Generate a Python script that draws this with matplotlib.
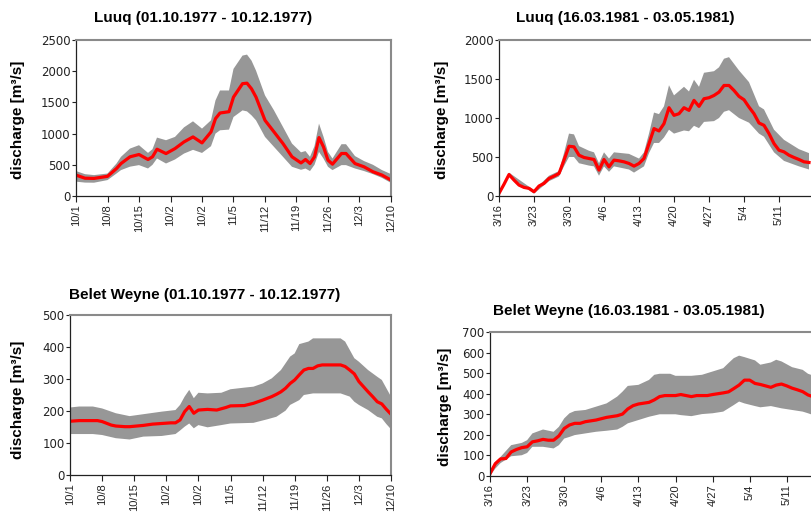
import matplotlib
matplotlib.use("Agg")
import matplotlib.pyplot as plt
import numpy as np

plt.rcParams['font.family'] = ['Liberation Sans', 'DejaVu Sans']

# ---- Luuq 1977 (day 0 = 10/1)
luuq77_days = [0, 2, 4, 7, 9, 10, 12, 14, 16, 17, 18, 20, 22, 24, 26, 28, 30, 31, 32, 34, 35,
               37, 38, 39, 40, 42, 44, 46, 48, 50, 51, 52, 53, 54, 55, 56, 57, 59, 60, 62,
               64, 66, 68, 70]
luuq77_mean = [335, 285, 282, 315, 440, 520, 628, 665, 585, 628, 750, 680, 760, 867, 947, 851,
               1027, 1240, 1330, 1351, 1585, 1800, 1808, 1718, 1585, 1213, 1027, 840, 628, 530,
               585, 520, 628, 936, 787, 574, 510, 681, 681, 520, 468, 388, 335, 255]
luuq77_upper = [400, 350, 335, 360, 520, 628, 760, 814, 691, 750, 936, 894, 947, 1100, 1197,
                1080, 1213, 1532, 1691, 1691, 2037, 2250, 2266, 2170, 2010, 1612, 1372, 1106,
                840, 700, 720, 628, 800, 1160, 950, 707, 600, 830, 830, 640, 560, 500, 415, 351]
luuq77_lower = [230, 215, 213, 255, 360, 415, 470, 495, 441, 500, 601, 521, 585, 680, 740, 690,
                798, 1000, 1053, 1064, 1266, 1372, 1356, 1293, 1213, 947, 787, 628, 468, 420,
                440, 400, 500, 707, 600, 468, 415, 495, 495, 441, 400, 350, 290, 210]

# ---- Luuq 1981 (day 0 = 3/16)
luuq81_days = list(range(0, 63))
luuq81_mean = [34, 150, 275, 204, 140, 110, 98, 55, 128, 162, 225, 255, 289, 460, 638, 630,
               523, 494, 481, 468, 332, 468, 374, 460, 451, 438, 417, 383, 417, 481, 672, 864,
               834, 928, 1132, 1034, 1055, 1132, 1098, 1226, 1149, 1247, 1260, 1289, 1332,
               1417, 1417, 1353, 1277, 1234, 1140, 1055, 936, 906, 800, 672, 587, 566, 523,
               494, 468, 438, 430]
luuq81_up_days = [0, 2, 7, 10, 12, 13, 14, 15, 16, 18, 19, 20, 21, 22, 23, 26, 28, 29, 30, 31,
                  32, 33, 34, 35, 37, 38, 39, 40, 41, 43, 44, 45, 46, 48, 50, 52, 53, 55, 57,
                  60, 62]
luuq81_upper = [40, 300, 75, 260, 320, 550, 800, 790, 640, 580, 560, 420, 560, 480, 560, 540,
                480, 560, 800, 1070, 1050, 1150, 1420, 1290, 1400, 1340, 1490, 1400, 1580, 1600,
                1650, 1760, 1780, 1610, 1460, 1150, 1110, 850, 720, 600, 550]
luuq81_lo_days = [0, 2, 7, 10, 12, 13, 14, 15, 16, 18, 19, 20, 21, 22, 23, 26, 27, 29, 30, 31,
                  32, 33, 34, 35, 37, 38, 39, 40, 41, 43, 44, 45, 46, 48, 50, 52, 53, 55, 57,
                  60, 62]
luuq81_lower = [20, 250, 30, 190, 250, 380, 500, 500, 420, 390, 380, 260, 380, 310, 380, 340,
                300, 380, 550, 680, 680, 750, 850, 800, 840, 830, 900, 870, 950, 960, 1000,
                1080, 1100, 1000, 940, 800, 760, 560, 450, 380, 340]

# ---- Belet Weyne 1977 (day 0 = 10/1)
bw77_days = [0, 2, 6, 7, 9, 10, 12, 13, 16, 18, 20, 22, 23, 24, 25, 26, 27, 28, 30, 32, 34, 35,
             38, 40, 42, 44, 45, 46, 47, 48, 49, 50, 51, 52, 53, 54, 55, 57, 59, 60, 61, 62,
             63, 64, 65, 66, 67, 68, 69, 70]
bw77_mean = [168, 170, 170, 167, 156, 153, 151, 151, 155, 159, 161, 163, 163, 172, 198, 214,
             193, 203, 205, 203, 211, 216, 217, 224, 234, 245, 252, 260, 271, 286, 297, 313,
             328, 333, 333, 341, 344, 344, 344, 339, 328, 316, 292, 276, 260, 245, 229, 222,
             205, 190]
bw77_up_days = [0, 2, 5, 7, 10, 13, 16, 20, 23, 24, 25, 26, 27, 28, 30, 33, 35, 38, 40, 42, 44,
                46, 48, 49, 50, 52, 53, 55, 59, 60, 61, 62, 63, 65, 67, 68, 69, 70]
bw77_upper = [211, 214, 214, 208, 193, 184, 190, 198, 203, 219, 245, 266, 240, 257, 255, 257,
              268, 273, 276, 286, 302, 328, 370, 380, 409, 417, 427, 427, 427, 417, 391, 365,
              354, 328, 307, 297, 271, 245]
bw77_lo_days = [0, 5, 7, 10, 13, 16, 20, 23, 24, 25, 26, 27, 28, 30, 33, 35, 40, 43, 45, 47, 48,
                50, 51, 53, 59, 61, 62, 63, 65, 67, 68, 69, 70]
bw77_lower = [128, 128, 125, 115, 111, 120, 122, 128, 139, 151, 161, 146, 156, 149, 156, 161,
              163, 174, 182, 201, 219, 234, 250, 255, 255, 245, 229, 219, 203, 182, 177, 159, 143]

# ---- Belet Weyne 1981 (day 0 = 3/16)
bw81_days = [0, 0.5, 1, 2, 3, 4, 5, 6, 7, 8, 9, 10, 11, 12, 13, 14, 15, 16, 17, 18, 20, 22, 24,
             25, 26, 27, 28, 30, 31, 32, 33, 34, 35, 36, 38, 39, 41, 42, 43, 44, 45, 46, 47,
             48, 49, 50, 51, 52, 53, 54, 55, 56, 57, 58, 59, 60, 61]
bw81_mean = [11, 36, 60, 83, 85, 117, 129, 138, 142, 166, 171, 178, 174, 174, 195, 231, 248,
             256, 256, 264, 272, 285, 293, 301, 326, 342, 350, 358, 370, 386, 391, 391, 391,
             396, 386, 391, 391, 396, 400, 404, 409, 425, 442, 466, 466, 450, 445, 438, 431,
             442, 447, 438, 427, 419, 410, 394, 385]
bw81_up_days = [0, 1, 2, 4, 6, 7, 8, 10, 12, 13, 14, 15, 16, 18, 20, 22, 24, 25, 26, 28, 30,
                31, 32, 34, 35, 38, 40, 42, 43, 44, 45, 46, 47, 48, 50, 51, 53, 54, 55, 57,
                59, 60, 61]
bw81_upper = [20, 68, 93, 150, 161, 174, 207, 226, 215, 239, 280, 305, 316, 321, 337, 353, 386,
              410, 438, 443, 467, 492, 497, 497, 487, 487, 492, 508, 516, 524, 549, 573, 585,
              578, 562, 541, 552, 565, 557, 529, 516, 497, 488]
bw81_lo_days = [0, 1, 2, 4, 6, 7, 8, 10, 12, 13, 14, 15, 16, 18, 20, 22, 24, 25, 26, 28, 30,
                32, 35, 36, 38, 40, 42, 44, 45, 46, 47, 48, 50, 51, 52, 53, 55, 57, 59, 60, 61]
bw81_lower = [0, 36, 63, 96, 101, 112, 142, 142, 134, 150, 182, 190, 199, 207, 215, 220, 226,
              239, 256, 272, 288, 300, 300, 296, 291, 301, 305, 313, 329, 345, 362, 353, 340,
              334, 337, 340, 329, 321, 313, 305, 296]

ticks_77 = [0, 7, 14, 21, 28, 35, 42, 49, 56, 63, 70]
labels_77 = ["10/1", "10/8", "10/15", "10/2", "10/2", "11/5", "11/12", "11/19", "11/26",
             "12/3", "12/10"]
ticks_81 = [0, 7, 14, 21, 28, 35, 42, 49, 56]
labels_81 = ["3/16", "3/23", "3/30", "4/6", "4/13", "4/20", "4/27", "5/4", "5/11"]

BAND = "#979797"
LINE = "#ff0000"
W, H = 811, 512


def px_axes(left, top, right, bottom):
    return [left / W, (H - bottom) / H, (right - left) / W, (bottom - top) / H]


def panel(rect, du, up, dl, lo, dm, mean, ymax, ystep, ticks, labels):
    ax = fig.add_axes(rect)
    xs = np.r_[du, dl[::-1]]
    ys = np.r_[up, lo[::-1]]
    ax.fill(xs, ys, color=BAND, lw=0, zorder=1)
    ax.plot(dm, mean, color=LINE, lw=2.3, zorder=2)
    ax.set_xlim(0, 70)
    ax.set_ylim(0, ymax)
    ax.set_yticks(np.arange(0, ymax + 1, ystep))
    ax.set_xticks(ticks)
    ax.set_xticklabels(labels, rotation=90, fontsize=8)
    for lab in ax.get_yticklabels():
        lab.set_fontfamily('DejaVu Sans')
    ax.tick_params(axis='y', labelsize=8.5, length=3, width=0.8, pad=1, colors='#222222')
    ax.tick_params(axis='x', length=4, width=0.8, pad=2, colors='#222222')
    for s in ['top', 'right']:
        ax.spines[s].set_color('#8a8a8a')
        ax.spines[s].set_linewidth(1.5)
    for s in ['left', 'bottom']:
        ax.spines[s].set_color('#222222')
        ax.spines[s].set_linewidth(0.9)
    return ax


fig = plt.figure(figsize=(W / 100, H / 100), dpi=100)

panel(px_axes(76, 40, 391, 196), luuq77_days, luuq77_upper, luuq77_days, luuq77_lower,
      luuq77_days, luuq77_mean, 2500, 500, ticks_77, labels_77)
panel(px_axes(499, 40, 849, 196), luuq81_up_days, luuq81_upper, luuq81_lo_days, luuq81_lower,
      luuq81_days, luuq81_mean, 2000, 500, ticks_81, labels_81)
panel(px_axes(70, 315, 391, 475), bw77_up_days, bw77_upper, bw77_lo_days, bw77_lower,
      bw77_days, bw77_mean, 500, 100, ticks_77, labels_77)
panel(px_axes(490, 332, 861, 476), bw81_up_days, bw81_upper, bw81_lo_days, bw81_lower,
      bw81_days, bw81_mean, 700, 100, ticks_81, labels_81)

titles = [("Luuq (01.10.1977 - 10.12.1977)", 203, 18),
          ("Luuq (16.03.1981 - 03.05.1981)", 625, 18),
          ("Belet Weyne (01.10.1977 - 10.12.1977)", 205, 295),
          ("Belet Weyne (16.03.1981 - 03.05.1981)", 629, 311)]
for t, x, y in titles:
    fig.text(x / W, 1 - y / H, t, ha='center', va='center', fontsize=11, fontweight='bold')

ylabels = [(18, 120), (442, 120), (18, 400), (445, 407)]
for x, y in ylabels:
    fig.text(x / W, 1 - y / H, "discharge [m³/s]", ha='center', va='center', rotation=90,
             fontsize=11, fontweight='bold')

fig.savefig("out.png", dpi=100)
